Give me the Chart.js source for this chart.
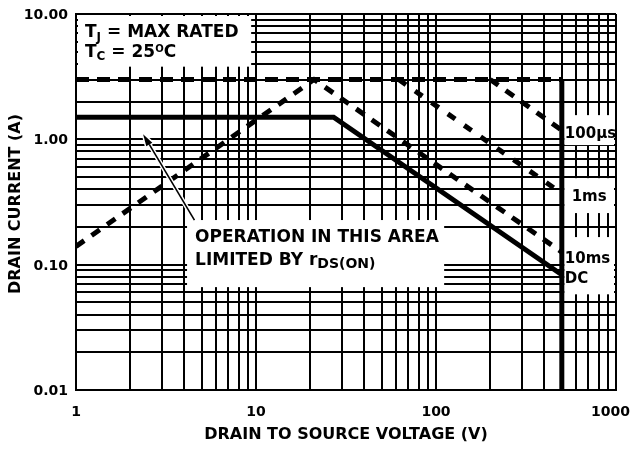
<!DOCTYPE html>
<html>
<head>
<meta charset="utf-8">
<title>Maximum Safe Operating Area</title>
<script src="https://cdn.jsdelivr.net/npm/chart.js@4.4.1/dist/chart.umd.min.js"></script>
<style>
  html, body { margin: 0; padding: 0; background: #fff; }
  canvas { display: block; }
</style>
</head>
<body>
<canvas id="soa" width="632" height="449"></canvas>
<script>
// Log axes: decade values and their printed labels
const xMajorValues = [1, 10, 100, 1000];
const xTickLabels = ['1', '10', '100', '1000'];
const yMajorValues = [0.01, 0.1, 1, 10];
const yTickLabels = ['0.01', '0.10', '1.00', '10.00'];
const gridMultipliers = [1, 2, 3, 4, 5, 6, 7, 8, 9];

// Maximum rated drain current (A)
const limitCurrentV = [1, 500];
const limitCurrentA = [3, 3];

// rDS(ON)-limited rise joining the 10 ms pulse boundary
const pulse10msV = [1, 21, 500];
const pulse10msA = [0.14, 3, 0.126];

// 1 ms pulse boundary
const pulse1msV = [62, 500];
const pulse1msA = [3, 0.37];

// 100 us pulse boundary
const pulse100usV = [200, 500];
const pulse100usA = [3, 1.18];

// DC operation
const dcV = [1, 27, 500];
const dcA = [1.5, 1.5, 0.083];

// Maximum rated drain-to-source voltage
const vdsMaxV = [500, 500];
const vdsMaxA = [0.01, 3];

const FONT = '"DejaVu Sans", "Liberation Sans", sans-serif';

const zip = (xs, ys) => xs.map((v, i) => ({ x: v, y: ys[i] }));
const gridTicks = majors => {
  const out = [];
  majors.forEach((m, i) => {
    if (i === majors.length - 1) { out.push({ value: m }); return; }
    gridMultipliers.forEach(k => out.push({ value: m * k }));
  });
  return out;
};

function series(xs, ys, width, dash) {
  return {
    data: zip(xs, ys),
    borderColor: '#000',
    borderWidth: width,
    borderDash: dash,
    borderCapStyle: 'butt',
    borderJoinStyle: 'miter',
    pointRadius: 0,
    tension: 0,
    fill: false
  };
}

// White panels behind the annotation texts (they mask the grid)
function panels(chart) {
  const { chartArea: a, scales: { x, y } } = chart;
  const px = v => x.getPixelForValue(v);
  const py = v => y.getPixelForValue(v);
  const labL = px(500) + 2.5, labR = a.right - 2;
  return {
    note: { l: a.left + 2, t: a.top + 2, r: px(9.4), b: py(3.8) },
    area: { l: px(4.14), t: py(0.227), r: px(111), b: py(0.0662) },
    p100us: { l: labL, r: labR, t: py(1.56), b: py(0.9) },
    p1ms: { l: labL, r: labR, t: py(0.49), b: py(0.258) },
    p10ms: { l: labL, r: labR, t: py(0.166), b: py(0.058) }
  };
}

function runs(ctx, x, y, parts) {
  for (const [text, size, dy] of parts) {
    ctx.font = `bold ${size}px ${FONT}`;
    ctx.fillText(text, x, y + dy);
    x += ctx.measureText(text).width;
  }
}

const soaDecor = {
  id: 'soaDecor',
  beforeDatasetsDraw(chart) {
    const { ctx } = chart;
    ctx.save();
    ctx.fillStyle = '#fff';
    for (const r of Object.values(panels(chart))) {
      ctx.fillRect(r.l, r.t, r.r - r.l, r.b - r.t);
    }
    ctx.restore();
  },
  afterDatasetsDraw(chart) {
    const { ctx, chartArea: a, scales: { x, y } } = chart;
    const p = panels(chart);
    ctx.save();
    ctx.fillStyle = '#000';
    ctx.textBaseline = 'alphabetic';
    ctx.textAlign = 'left';

    // Test conditions
    runs(ctx, p.note.l + 7, p.note.t + 21, [['T', 17, 0], ['J', 12, 4], [' = MAX RATED', 17, 0]]);
    runs(ctx, p.note.l + 7, p.note.t + 41, [['T', 17, 0], ['C', 12, 3], [' = 25', 17, 0], ['O', 10, -5], ['C', 17, 0]]);

    // rDS(ON) region note
    runs(ctx, p.area.l + 8, p.area.t + 22, [['OPERATION IN THIS AREA', 17, 0]]);
    runs(ctx, p.area.l + 8, p.area.t + 45, [['LIMITED BY r', 17, 0], ['DS(ON)', 14, 3]]);

    // Curve labels
    runs(ctx, p.p100us.l + 0.5, p.p100us.t + 23, [['100\u00b5s', 15, 0]]);
    ctx.font = `bold 15px ${FONT}`;
    ctx.textAlign = 'center';
    ctx.fillText('1ms', (p.p1ms.l + p.p1ms.r) / 2, p.p1ms.t + 22.5);
    ctx.textAlign = 'left';
    runs(ctx, p.p10ms.l + 0.5, p.p10ms.t + 26, [['10ms', 15, 0]]);
    runs(ctx, p.p10ms.l + 0.5, p.p10ms.t + 46, [['DC', 15, 0]]);

    // Arrow pointing at the rDS(ON) limit
    const tip = { x: x.getPixelForValue(2.36), y: y.getPixelForValue(1.1) };
    const tail = { x: x.getPixelForValue(4.55), y: p.area.t };
    const len = Math.hypot(tail.x - tip.x, tail.y - tip.y);
    const ux = (tail.x - tip.x) / len, uy = (tail.y - tip.y) / len;
    const headL = 12, headW = 3.5;
    const base = { x: tip.x + ux * headL, y: tip.y + uy * headL };
    const head = () => {
      ctx.beginPath();
      ctx.moveTo(tip.x, tip.y);
      ctx.lineTo(base.x - uy * headW, base.y + ux * headW);
      ctx.lineTo(base.x + uy * headW, base.y - ux * headW);
      ctx.closePath();
    };
    ctx.lineCap = 'butt';
    ctx.strokeStyle = '#fff';
    ctx.lineWidth = 4.5;
    ctx.beginPath(); ctx.moveTo(base.x, base.y); ctx.lineTo(tail.x, tail.y); ctx.stroke();
    ctx.lineWidth = 3; head(); ctx.stroke();
    ctx.strokeStyle = '#000';
    ctx.lineWidth = 1.6;
    ctx.beginPath(); ctx.moveTo(base.x, base.y); ctx.lineTo(tail.x, tail.y); ctx.stroke();
    head(); ctx.fill();

    // Tick labels
    ctx.font = `bold 14px ${FONT}`;
    ctx.textAlign = 'center';
    xMajorValues.forEach((v, i) => {
      const w = ctx.measureText(xTickLabels[i]).width;
      const cx = Math.min(x.getPixelForValue(v), chart.width - 2 - w / 2);
      ctx.fillText(xTickLabels[i], cx, a.bottom + 26);
    });
    ctx.textAlign = 'right';
    yMajorValues.forEach((v, i) => {
      ctx.fillText(yTickLabels[i], a.left - 8, y.getPixelForValue(v) + 5);
    });

    // Axis titles
    ctx.font = `bold 16px ${FONT}`;
    ctx.textAlign = 'center';
    ctx.fillText('DRAIN TO SOURCE VOLTAGE (V)', (a.left + a.right) / 2, a.bottom + 49);
    ctx.translate(20, (a.top + a.bottom) / 2 + 2);
    ctx.rotate(-Math.PI / 2);
    ctx.fillText('DRAIN CURRENT (A)', 0, 0);
    ctx.restore();
  }
};

const gridStyle = { color: '#000', lineWidth: 2, drawTicks: false };

new Chart(document.getElementById('soa'), {
  type: 'line',
  data: {
    datasets: [
      series(limitCurrentV, limitCurrentA, 5, [13, 8]),
      series(pulse10msV, pulse10msA, 5, [10, 9]),
      series(pulse1msV, pulse1msA, 5, [9, 11]),
      series(pulse100usV, pulse100usA, 5, [10, 9]),
      series(dcV, dcA, 5, []),
      series(vdsMaxV, vdsMaxA, 5, [])
    ]
  },
  options: {
    responsive: false,
    animation: false,
    events: [],
    devicePixelRatio: 1,
    layout: { padding: { top: 14, right: 16, bottom: 0, left: 0 } },
    plugins: { legend: { display: false }, tooltip: { enabled: false } },
    scales: {
      x: {
        type: 'logarithmic',
        min: xMajorValues[0],
        max: xMajorValues[xMajorValues.length - 1],
        grid: gridStyle,
        border: { display: true, color: '#000', width: 2 },
        ticks: { display: false },
        afterBuildTicks: s => { s.ticks = gridTicks(xMajorValues); },
        afterFit: s => { s.height = 59; }
      },
      y: {
        type: 'logarithmic',
        min: yMajorValues[0],
        max: yMajorValues[yMajorValues.length - 1],
        grid: gridStyle,
        border: { display: true, color: '#000', width: 2 },
        ticks: { display: false },
        afterBuildTicks: s => { s.ticks = gridTicks(yMajorValues); },
        afterFit: s => { s.width = 76; }
      }
    }
  },
  plugins: [soaDecor]
});
</script>
</body>
</html>
